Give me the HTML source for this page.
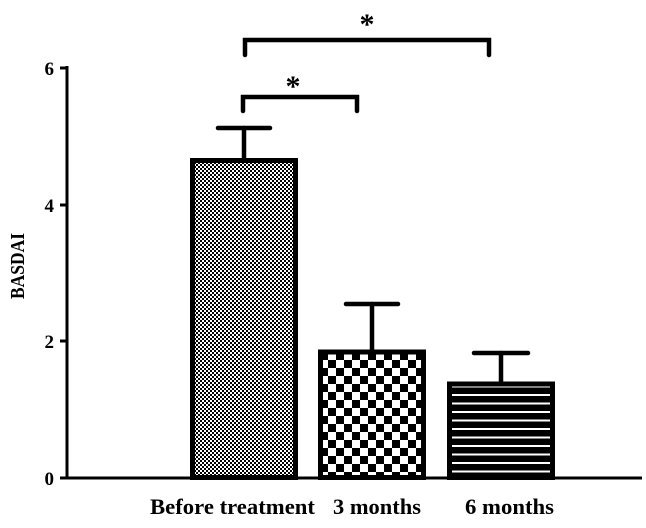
<!DOCTYPE html><html><head><style>body{margin:0;background:#fff}</style></head><body>
<svg width="646" height="523" xmlns="http://www.w3.org/2000/svg" font-family="Liberation Serif, serif" font-weight="bold">
<defs>
<pattern id="p1" width="4" height="4" patternUnits="userSpaceOnUse"><rect width="4" height="4" fill="#fff"/><rect width="2" height="2" fill="#000"/><rect x="2" y="2" width="2" height="2" fill="#000"/></pattern>
<pattern id="p2" width="16" height="16" patternUnits="userSpaceOnUse"><rect width="16" height="16" fill="#fff"/><rect width="8" height="8" fill="#000"/><rect x="8" y="8" width="8" height="8" fill="#000"/></pattern>
<pattern id="p3" width="8" height="8.5" patternUnits="userSpaceOnUse"><rect width="8" height="8.5" fill="#000"/><rect y="3" width="8" height="2" fill="#fff"/></pattern>
</defs>
<g stroke="#000" stroke-width="4.5" fill="none" stroke-linecap="round">
<line x1="244" y1="158" x2="244" y2="128"/><line x1="218" y1="128" x2="270" y2="128"/>
<line x1="372" y1="350" x2="372" y2="304"/><line x1="346" y1="304" x2="398" y2="304"/>
<line x1="501" y1="382" x2="501" y2="353"/><line x1="474" y1="353" x2="528" y2="353"/>
<path d="M245 55V40H489V55"/><path d="M243 111V97H357V111"/>
</g>
<rect x="192.5" y="160.5" width="103" height="317" fill="url(#p1)" stroke="#000" stroke-width="5"/>
<rect x="320.5" y="352" width="103" height="125.5" fill="url(#p2)" stroke="#000" stroke-width="5"/>
<rect x="449.5" y="384" width="103" height="93.5" fill="url(#p3)" stroke="#000" stroke-width="5"/>
<g stroke="#000" stroke-width="3">
<line x1="67" y1="66" x2="67" y2="479"/><line x1="66" y1="478" x2="642" y2="478"/>
<line x1="60" y1="68" x2="67" y2="68"/><line x1="60" y1="205" x2="67" y2="205"/><line x1="60" y1="341" x2="67" y2="341"/><line x1="60" y1="478" x2="67" y2="478"/>
</g>
<g font-size="19" text-anchor="end">
<text x="54" y="75">6</text><text x="54" y="212">4</text><text x="54" y="348">2</text><text x="54" y="485">0</text>
</g>
<text transform="translate(24,266) rotate(-90)" font-size="20" text-anchor="middle" textLength="66" lengthAdjust="spacingAndGlyphs">BASDAI</text>
<g font-size="22">
<text x="150" y="514" textLength="165" lengthAdjust="spacingAndGlyphs">Before treatment</text>
<text x="333" y="514" textLength="88" lengthAdjust="spacingAndGlyphs">3 months</text>
<text x="465" y="514" textLength="89" lengthAdjust="spacingAndGlyphs">6 months</text>
</g>
<g font-size="30" text-anchor="middle"><text x="367" y="34">*</text><text x="293" y="96">*</text></g>
</svg></body></html>
